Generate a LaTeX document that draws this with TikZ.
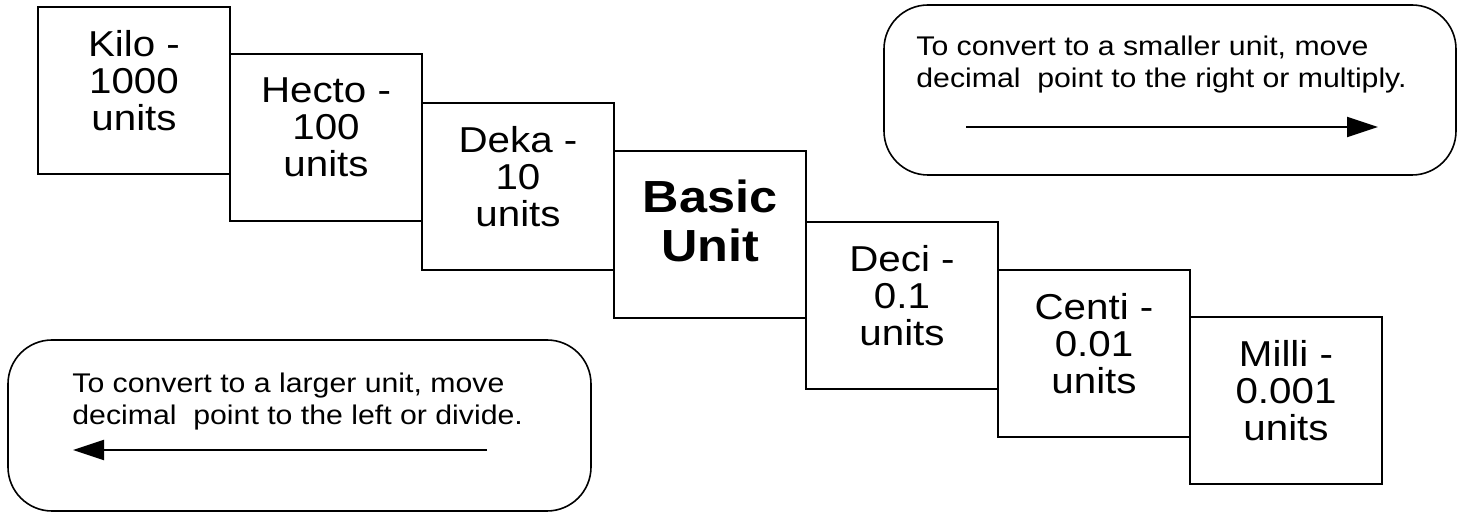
\documentclass[tikz,border=0pt]{standalone}
\usepackage{fontspec}
\setmainfont{Liberation Sans}[FakeStretch=1.12]
\usetikzlibrary{arrows.meta,positioning}
\tikzset{unitbox/.style={draw, line width=1.15pt, minimum width=96pt, minimum height=83.5pt,
    inner sep=0pt, outer sep=0pt, anchor=north west, align=center, text depth=10.5pt,
    font=\fontsize{18pt}{18.5pt}\selectfont}}
\tikzset{basebox/.style={unitbox, text depth=14pt, font=\bfseries\fontsize{22.5pt}{24.5pt}\selectfont}}
\tikzset{rulebox/.style={draw, line width=0.8pt, rounded corners=22pt, inner sep=0pt}}
\tikzset{ruletext/.style={anchor=north west, inner sep=0pt, align=left,
    font=\fontsize{13.5pt}{15.75pt}\selectfont}}
\tikzset{convarr/.style={draw, -{Triangle[length=15.5pt,width=10pt]}, line width=1.1pt}}

\begin{document}
\begin{tikzpicture}[x=0.5pt,y=-0.5pt]
        \useasboundingbox (0,0) rectangle (1458,512);
        % the staircase of prefixes
        \node[unitbox] (kilo) at (38,7) {Kilo -\\1000\\units};
        \node[unitbox] (hecto) at (230,54) {Hecto -\\100\\units};
        \node[unitbox] (deka) at (422,103) {Deka -\\10\\units};
        \node[basebox] (basic) at (614,151) {Basic\\Unit};
        \node[unitbox] (deci) at (806,222) {Deci -\\0.1\\units};
        \node[unitbox] (centi) at (998,270) {Centi -\\0.01\\units};
        \node[unitbox] (milli) at (1190,317) {Milli -\\0.001\\units};
        % to a smaller unit
        \node[rulebox, minimum width=286pt, minimum height=85pt] (smallerbox) at (1170,90) {};
        \node[ruletext] (smallertext) at (916,36) {To convert to a smaller unit, move\\
            decimal~ point to the right or multiply.};
        \coordinate (smallerA) at (966,127);
        \coordinate (smallerB) at (1378,127);
        \draw[convarr] (smallerA) -- (smallerB);
        % to a larger unit
        \node[rulebox, minimum width=291.5pt, minimum height=85.5pt] (largerbox) at (299.5,425.5) {};
        \node[ruletext] (largertext) at (72,373) {To convert to a larger unit, move\\
            decimal~ point to the left or divide.};
        \coordinate (largerA) at (487,450);
        \coordinate (largerB) at (73,450);
        \draw[convarr] (largerA) -- (largerB);
    \end{tikzpicture}
\end{document}
